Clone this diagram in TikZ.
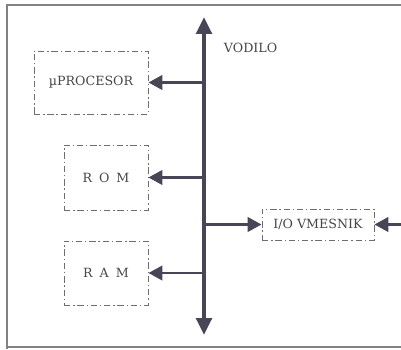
\documentclass[tikz,border=0pt]{standalone}
\usepackage{fontspec}
\setmainfont{DejaVu Serif}
\usetikzlibrary{positioning,arrows.meta,calc}
\definecolor{busgray}{RGB}{72,70,86}
\definecolor{boxgray}{RGB}{110,110,110}
\definecolor{textgray}{RGB}{70,70,70}
\definecolor{framegray}{RGB}{130,130,130}

\begin{document}
\begin{tikzpicture}[x=0.025cm,y=-0.025cm,
    font=\fontsize{9}{10.8}\selectfont,
    unit/.style={draw=boxgray,dash pattern=on 4.5pt off 2pt on 1pt off 2pt,line width=0.6pt,text=textgray,inner sep=0pt},
    link/.style={busgray,line width=2.1pt,-{Triangle[length=0.35cm,width=0.36cm]}},
    busline/.style={busgray,line width=3pt,{Triangle[length=0.42cm,width=0.38cm]}-{Triangle[length=0.42cm,width=0.38cm]}}]
    \useasboundingbox (0,0) rectangle (401,349);
    % okvir
    \draw[framegray,line width=0.8pt] (401,5) -- (7,5) -- (7,349);
    \draw[framegray,line width=0.8pt] (7,347) -- (401,347);
    % vodilo
    \coordinate (bustop) at (204,17);
    \coordinate (busbot) at (204,335);
    \draw[busline] (busbot) -- (bustop);
    \node[text=textgray,anchor=west] (vodilo) at (219,48) {VODILO};
    % enote
    \node[unit,minimum width=114*0.025cm,minimum height=63*0.025cm] (proc) at (91,82.5) {µPROCESOR};
    \node[unit,minimum width=84*0.025cm,minimum height=65*0.025cm] (rom) at (106,177.5) {R\;\;O\;\;M};
    \node[unit,minimum width=84*0.025cm,minimum height=64*0.025cm] (ram) at (106,273) {R\;\;A\;\;M};
    \node[unit,minimum width=112*0.025cm,minimum height=31*0.025cm] (io) at (318,224.5) {I/O VMESNIK};
    \coordinate (zunaj) at (401,224.5);
    % povezave
    \draw[link] (proc.east -| bustop) -- (proc.east);
    \draw[link] (rom.east -| bustop) -- (rom.east);
    \draw[link] (ram.east -| bustop) -- (ram.east);
    \draw[link] (io.west -| bustop) -- (io.west);
    \draw[link] (zunaj) -- (io.east);
\end{tikzpicture}
\end{document}
